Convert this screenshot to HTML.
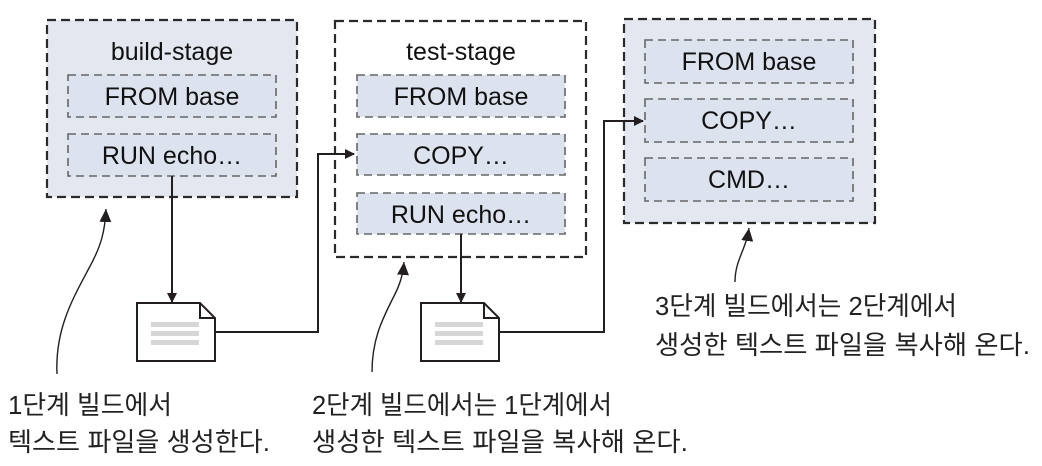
<!DOCTYPE html>
<html><head><meta charset="utf-8"><style>html,body{margin:0;padding:0;background:#fff}svg{display:block}</style></head>
<body>
<svg width="1042" height="466" viewBox="0 0 1042 466" xmlns="http://www.w3.org/2000/svg">
<defs>
<marker id="ah" markerWidth="10" markerHeight="10" refX="9" refY="5" orient="auto" markerUnits="userSpaceOnUse"><path d="M0,0 L10,5 L0,10 z" fill="#231f20"/></marker>
<marker id="ah2" markerWidth="14" markerHeight="14" refX="13" refY="7" orient="auto" markerUnits="userSpaceOnUse"><path d="M0,1 L13,7 L0,13 z" fill="#231f20"/></marker>
</defs>
<g font-family="Liberation Sans, sans-serif" font-size="25" fill="#111" text-anchor="middle">
<rect x="47" y="20" width="250" height="177" fill="#e2e7f0" stroke="#2a2a2a" stroke-width="2.2" stroke-dasharray="9,5"/>
<text x="172" y="60">build-stage</text>
<rect x="68" y="75" width="208" height="42" fill="#dce3ee" stroke="#666" stroke-width="1.6" stroke-dasharray="8,5"/>
<text x="172" y="105">FROM base</text>
<rect x="68" y="134" width="208" height="42" fill="#dce3ee" stroke="#666" stroke-width="1.6" stroke-dasharray="8,5"/>
<text x="172" y="164">RUN echo…</text>
<rect x="335" y="21" width="251" height="236" fill="#fff" stroke="#2a2a2a" stroke-width="2.2" stroke-dasharray="9,5"/>
<text x="461" y="60">test-stage</text>
<rect x="357" y="75" width="208" height="42" fill="#dce3ee" stroke="#666" stroke-width="1.6" stroke-dasharray="8,5"/>
<text x="461" y="105">FROM base</text>
<rect x="357" y="134" width="208" height="41" fill="#dce3ee" stroke="#666" stroke-width="1.6" stroke-dasharray="8,5"/>
<text x="461" y="164">COPY…</text>
<rect x="357" y="193" width="208" height="41" fill="#dce3ee" stroke="#666" stroke-width="1.6" stroke-dasharray="8,5"/>
<text x="461" y="223">RUN echo…</text>
<rect x="624" y="19" width="251" height="204" fill="#e2e7f0" stroke="#2a2a2a" stroke-width="2.2" stroke-dasharray="9,5"/>
<rect x="645" y="40" width="208" height="43" fill="#dce3ee" stroke="#666" stroke-width="1.6" stroke-dasharray="8,5"/>
<text x="749" y="70">FROM base</text>
<rect x="645" y="99" width="208" height="43" fill="#dce3ee" stroke="#666" stroke-width="1.6" stroke-dasharray="8,5"/>
<text x="749" y="129">COPY…</text>
<rect x="645" y="158" width="208" height="43" fill="#dce3ee" stroke="#666" stroke-width="1.6" stroke-dasharray="8,5"/>
<text x="749" y="188">CMD…</text>
</g>
<g stroke="#231f20" stroke-width="2" fill="none">
<line x1="172" y1="176" x2="172" y2="302" marker-end="url(#ah)"/>
<polyline points="215,332 318,332 318,154 354,154" marker-end="url(#ah)"/>
<line x1="461" y1="234" x2="461" y2="302" marker-end="url(#ah)"/>
<polyline points="499,332 604,332 604,121 643,121" marker-end="url(#ah)"/>
</g>
<g stroke="#231f20" stroke-width="2" fill="#fff">
<path d="M137,303 L200,303 L215,318 L215,361 L137,361 Z"/>
<path d="M200,303 L200,318 L215,318" fill="none"/>
<path d="M421,303 L484,303 L499,318 L499,361 L421,361 Z"/>
<path d="M484,303 L484,318 L499,318" fill="none"/>
</g>
<g fill="#d6d6d6">
<rect x="151" y="322" width="48" height="5"/><rect x="151" y="331" width="48" height="5"/><rect x="151" y="340" width="48" height="5"/>
<rect x="435" y="322" width="48" height="5"/><rect x="435" y="331" width="48" height="5"/><rect x="435" y="340" width="48" height="5"/>
</g>
<g stroke="#231f20" stroke-width="1.4" fill="none">
<path d="M57,374 C55,330 72,300 88,270 C102,245 105,230 106,209" marker-end="url(#ah2)"/>
<path d="M372,372 C372,340 382,320 392,300 C400,285 403,275 404,262" marker-end="url(#ah2)"/>
<path d="M735,282 C735,260 746,250 749,228" marker-end="url(#ah2)"/>
</g>
<g font-family="Liberation Sans, 'Noto Sans CJK KR', sans-serif" font-size="26" fill="#222">
<text x="8" y="414" textLength="164" lengthAdjust="spacingAndGlyphs">1단계 빌드에서</text>
<text x="8" y="451" textLength="262" lengthAdjust="spacingAndGlyphs">텍스트 파일을 생성한다.</text>
<text x="312" y="414" textLength="300" lengthAdjust="spacingAndGlyphs">2단계 빌드에서는 1단계에서</text>
<text x="312" y="451" textLength="376" lengthAdjust="spacingAndGlyphs">생성한 텍스트 파일을 복사해 온다.</text>
<text x="655" y="315" textLength="302" lengthAdjust="spacingAndGlyphs">3단계 빌드에서는 2단계에서</text>
<text x="655" y="354" textLength="375" lengthAdjust="spacingAndGlyphs">생성한 텍스트 파일을 복사해 온다.</text>
</g>
</svg>
</body></html>
